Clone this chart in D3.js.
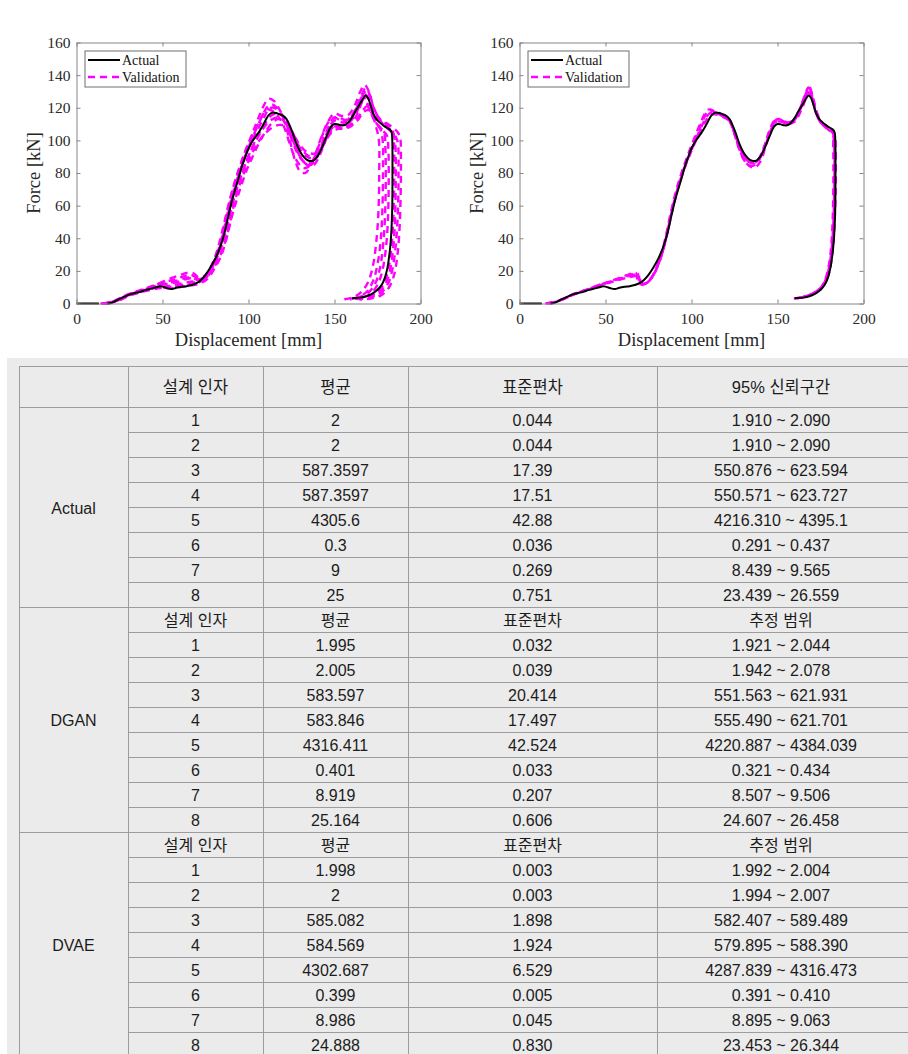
<!DOCTYPE html>
<html>
<head>
<meta charset="utf-8">
<script src="https://cdn.jsdelivr.net/npm/d3@7"></script>
<style>
  html, body { margin: 0; padding: 0; background: #fff; }
  svg { display: block; }
</style>
</head>
<body>
<svg id="fig" width="908" height="1054"></svg>
<script>
// ---------- Force–displacement curves: [displacement mm, force kN] ----------
const xTicks = [0, 50, 100, 150, 200];
const yTicks = [0, 20, 40, 60, 80, 100, 120, 140, 160];
const legendLabels = ["Actual", "Validation"];

// measured response (null breaks the line after the initial flat run)
const actualCurve = [
  [0,0],[13,0],[15,null],
  [18,0],[20,0.3],[22,1.2],[25,2.8],[28,4.2],[31,5.6],[34,6.4],[37,7.2],[40,8.2],[43,9],[46,9.8],[48.5,10.6],
  [50.5,10.2],[53,9.3],[55.5,8.9],[58,9.6],[61,10.2],[64,10.6],[67,11.3],[70,12.6],[72.5,14.6],[75,17.6],
  [77.5,21.5],[80,26],[82,30.5],[84,36],[86,43],[87.5,50],[89,57],[90.5,63.5],[92,69],[94,76],[96,83.5],
  [98,89.5],[100,95],[102,99],[104,102],[106,105],[108,108.5],[110,112.5],[112,115.8],[114,117],[116,116.8],
  [118,116],[120,115.2],[122,113.2],[124,109],[126,103.5],[128,97.5],[130,93],[132,90],[134,88],[136,87.3],
  [138,87.8],[140,90],[142,94],[144,99],[146,104],[148,108.5],[150,110],[152,109.8],[154,109.2],[156,109.4],
  [158,111],[160,113.8],[162,117.5],[164,121],[166,124.5],[168,127.5],[169.5,126],[171,121.5],[172.5,116.5],
  [174,113.5],[176,111.2],[178,109.5],[180,108],[182,106.8],[183.2,105],[183.6,100],[183.7,80],[183.6,60],
  [183.2,47],[182.6,37],[181.8,29],[180.8,22],[179.5,16.5],[178,12.5],[176,9.5],[174,7.5],[171.5,5.7],
  [168.5,4.4],[165,3.6],[162,3.3],[160,3.2]
];

// validation runs, left panel
const valA1 = [[14,0],[20,0.8],[26,3.5],[32,6.2],[38,8],[44,10.5],[50,12.8],[56,14.5],[62,16.5],[66,17.8],[70,16],[74,16.5],[77,20.5],[80,27],[83,37],[86,50],[89,63],[92,74],[95,84],[98,93],[101,101],[104,109],[107,117],[110,123.5],[112,125.5],[115,124],[118,119],[121,111],[124,100],[127,88],[130,81],[133,80],[136,84],[139,92],[142,101],[146,111],[150,116.5],[154,115],[158,115.5],[162,122],[165,130],[167.5,134],[170,130],[172.5,121],[176,113],[180,108],[184,104.5],[186.5,100],[187.2,80],[186.8,55],[185.8,38],[184.2,24],[181.5,13],[177,6.5],[171,3.8],[164,2.6]];
const valA2 = [[17,0],[23,1.5],[29,4.5],[35,6.5],[41,8.2],[47,9.8],[52,9.8],[57,10.2],[63,11],[69,12.2],[74,14.5],[78,19],[82,26],[85,33],[88,44],[91,58],[94,70],[97,79],[100,87],[103,94],[106,99.5],[109,103.5],[112,106.5],[115,108.5],[118,109.5],[121,109],[124,107],[127,102],[130,97],[133,93.5],[136,92],[139,92],[142,95],[145,100],[148,104.5],[152,107],[156,107],[160,109],[164,113],[167,117.5],[170,118.5],[172.5,114],[174.5,107],[175.8,100],[176,80],[175.5,55],[174.3,38],[172.5,24],[169.5,13],[165,6.5],[160,3.5],[155,2.5]];
const valA3 = [[16,0],[22,1.2],[28,4.4],[34,6.8],[40,8.6],[46,10.8],[51,11.8],[56,12.5],[61,14],[66,15.5],[71,14.5],[75,17],[79,24],[82,31],[85,42],[88,56],[91,68],[94,78],[97,87],[100,95],[103,102],[106,108],[109,114],[112,119.5],[115,120],[118,117],[121,113],[124,106],[127,97],[130,90],[133,86],[136,85],[139,88],[142,95],[145,103],[148,110],[151,112.5],[155,111],[159,112.5],[163,120],[166,127],[168.5,130.5],[171,126],[173.5,117],[177,111.5],[181,108],[184,105],[185.3,98],[185.6,75],[185.2,52],[184.3,36],[182.8,23],[180.5,14],[177,8],[172,4.8],[166,3.2],[161,2.8]];
const valA4 = [[18,0],[24,1.8],[30,5],[36,7],[42,8.8],[48,10.3],[53,10],[58,10.8],[64,12],[70,13.4],[75,16.5],[79,22],[83,31],[86,41],[89,54],[92,66],[95,76],[98,85],[101,93],[104,100],[107,106],[110,111],[113,115],[116,116.5],[119,115.5],[122,112],[125,105],[128,98],[131,93],[134,90],[137,89],[140,90.5],[143,96],[146,103],[149,108],[153,109],[157,108.5],[161,112],[164,118],[166.5,124],[168.5,123],[171,117],[174,111],[177,107.5],[179,104],[179.6,95],[179.8,75],[179.3,52],[178.2,35],[176.5,22],[174,13],[170.5,7.5],[166,4.5],[161,3]];
const valA5 = [[15,0],[21,1],[27,4],[33,6.5],[39,8.5],[45,10.5],[50,12],[55,13],[60,14.5],[65,16],[70,15],[74,15.5],[77,19],[80,25.5],[83,35],[85.5,46],[88,58],[91,71],[94,81],[97,90],[100,98],[103,105],[106,111],[109,117],[111,119],[114,118],[117,115],[120,110],[123,101],[126,92],[129,86],[132,83],[135,84],[138,89],[141,97],[144,106],[147,112],[150,114],[154,112],[158,113],[162,118.5],[165,125],[167.5,128.5],[170,125],[173,117],[177,112.5],[181,110],[185,107],[187.8,103],[188.6,85],[188.3,60],[187.6,42],[186.4,28],[184.5,17],[181.5,9.5],[177,5],[171,3],[165,2.3]];
const valA6 = [[19,0],[25,2],[31,5],[37,6.8],[43,8.3],[49,9.5],[54,9.2],[59,9.8],[65,10.8],[71,12],[76,15],[80,21],[84,29],[87,39],[90,52],[93,63],[96,73],[99,82],[102,89],[105,96],[108,102],[111,107],[114,111],[117,113],[120,112.5],[123,110],[126,104],[129,97],[132,93],[135,90.5],[138,90],[141,92.5],[144,98],[147,104],[151,108],[155,107.5],[159,109],[163,113],[166.5,118.5],[169,121],[171.5,117],[174,111],[177.5,106.5],[180.5,103],[181.3,95],[181.5,72],[181,50],[179.8,33],[177.8,20],[175,11.5],[171,6],[166,3.5],[162,2.9]];
const valA7 = [[15,0],[21,1],[27,4.2],[33,6.8],[39,8.8],[45,11.2],[50,13.3],[55,15.5],[60,17.3],[64,18.8],[68,18.5],[72,15],[75,15.5],[78,20],[81,27],[84,37],[87,50],[90,63],[93,74],[96,84],[99,93],[102,101],[105,108],[108,115],[111,120.5],[113.5,122],[116,120.5],[119,116.5],[122,110],[125,101],[128,93],[131,88],[134,86],[137,87],[140,91.5],[143,99],[146,107],[149,113],[152,114.5],[156,112.5],[160,115],[163,121],[166,128.5],[168,132],[170.5,128],[173,119],[176.5,113],[180.5,109.5],[183.5,107],[184.5,100],[184.7,78],[184.3,55],[183.4,38],[182,25],[179.7,15],[176,8],[171,4.5],[165,3],[159,2.5]];
const valA8 = [[17,0],[23,1.6],[29,4.8],[35,6.9],[41,8.6],[47,10.2],[52,10.5],[57,11.5],[62,12.5],[67,13.5],[72,14],[76,17],[80,23.5],[84,34],[87,45],[90,58],[93,69],[96,79],[99,87.5],[102,95],[105,101],[108,106.5],[111,110.5],[114,113],[117,114],[120,112.5],[123,107],[126,99.5],[129,92],[132,87],[135,84.5],[138,85],[141,90],[144,98],[147,105],[150,109],[154,109.5],[158,110.5],[162,115.5],[165,122],[167.5,126],[170,123],[172.5,116],[175,110],[177,106],[178,100],[178.2,80],[177.8,56],[176.8,38],[175,24],[172.5,14],[169,7.5],[164,4],[158,2.5]];

// validation runs, right panel
const valB1 = [[16,0],[24,2],[32,5.8],[40,8.6],[46,11],[52,13],[58,15.2],[64,17.3],[68.5,18.6],[69.5,14],[71,11.5],[74,12.5],[77,16],[80,22.5],[83,31],[86,44],[89,59],[92,71],[95,81],[98,90],[101,98],[104,106],[107,113],[110,118.5],[113,117.5],[117,115.5],[121,114],[124,107],[127,97],[130,89],[133,85],[136,84.5],[139,87.5],[142,95],[145,105],[148,112],[151,113],[155,111],[159,112],[163,119.5],[166,128],[168,132.5],[170,127],[172,118],[175,111],[179,107],[182,104],[183,95],[183.1,75],[182.6,52],[181.7,36],[180.3,24],[178.2,15],[175.5,10],[172,7],[167,4.6],[162,3.4],[159.5,3.1]];
const valB2 = [[17,0],[24,2.2],[32,6],[40,8.8],[46,11.3],[52,13.2],[58,15],[64,16.8],[69,17.8],[70,13.5],[71.5,11.8],[74.5,13],[77.5,16.8],[80.5,23.5],[83.5,33],[86.5,46.5],[89.5,61],[92.5,72.5],[95.5,82],[98.5,90.5],[101.5,98],[104.5,105.5],[107.5,112],[110.5,116.5],[113.5,117],[117,115.5],[121,113.5],[124,107.5],[127,98.5],[130,91],[133,87],[136,86],[139,88.5],[142,95.5],[145,104.5],[148,110.5],[151,112],[155,110.5],[159,111.5],[163,118.5],[166,126.5],[168.5,131],[170.5,126],[172.5,117],[175.5,111],[179,107.5],[182.5,104.5],[183.4,96],[183.5,76],[183,53],[182.1,37],[180.7,25],[178.6,16],[176,10.5],[172.5,7.2],[167.5,4.8],[162.5,3.5],[160,3.2]];
const valB3 = [[15,0],[23,1.8],[31,5.6],[39,8.4],[45,10.8],[51,13],[57,15.3],[63,17.6],[67.5,19],[68.5,15],[70,12],[73,12.3],[76,15],[79,20.5],[82,28.5],[85,41],[88,56],[91,69],[94,79.5],[97,88.5],[100,97],[103,105],[106,112.5],[109,118.5],[111,119],[114,117.5],[118,116],[122,113],[125,104],[128,94],[131,87.5],[134,84],[137,83.5],[140,87],[143,96],[146,106],[149,112.5],[152,113],[156,111],[160,113],[164,122],[167,130],[168.5,133],[170.5,127],[172.5,118.5],[175.5,111.5],[179,108],[182,105],[182.4,96],[182.5,75],[182.1,52],[181.3,36],[180,24.5],[178,15.5],[175.5,10.2],[172,7],[167,4.6],[162,3.3],[159,3]];
const valB4 = [[18,0],[25,2.5],[33,6],[41,9],[47,11.2],[53,13],[59,14.8],[65,16.4],[69.5,16.8],[70.5,13],[72,12],[75,13.5],[78,17.5],[81,24.5],[84,34.5],[87,48],[90,62],[93,73.5],[96,83],[99,91],[102,98.5],[105,105.5],[108,111.5],[111,115.5],[114,116],[118,114.5],[122,112],[125,105],[128,96],[131,89.5],[134,86.5],[137,86.5],[140,89.5],[143,97],[146,105.5],[149,111],[152,111.5],[156,110],[160,111.5],[164,119],[166.5,126],[168,129.5],[170,125.5],[172.5,116.5],[175.5,110.5],[179,107],[183,104],[183.7,95],[183.8,74],[183.3,52],[182.4,36],[181,24],[179,15.5],[176.5,10.5],[173,7.2],[168,4.8],[163,3.5],[160.5,3.2]];

// ---------- Table of design-factor statistics ----------
const headerLabels = ["", "설계 인자", "평균", "표준편차", "95% 신뢰구간"];
const subHeaderLabels = ["설계 인자", "평균", "표준편차", "추정 범위"];
const factorIds = ["1", "2", "3", "4", "5", "6", "7", "8"];

const actualMean  = ["2", "2", "587.3597", "587.3597", "4305.6", "0.3", "9", "25"];
const actualStd   = ["0.044", "0.044", "17.39", "17.51", "42.88", "0.036", "0.269", "0.751"];
const actualRange = ["1.910 ~ 2.090", "1.910 ~ 2.090", "550.876 ~ 623.594", "550.571 ~ 623.727",
                     "4216.310 ~ 4395.1", "0.291 ~ 0.437", "8.439 ~ 9.565", "23.439 ~ 26.559"];

const dganMean  = ["1.995", "2.005", "583.597", "583.846", "4316.411", "0.401", "8.919", "25.164"];
const dganStd   = ["0.032", "0.039", "20.414", "17.497", "42.524", "0.033", "0.207", "0.606"];
const dganRange = ["1.921 ~ 2.044", "1.942 ~ 2.078", "551.563 ~ 621.931", "555.490 ~ 621.701",
                   "4220.887 ~ 4384.039", "0.321 ~ 0.434", "8.507 ~ 9.506", "24.607 ~ 26.458"];

const dvaeMean  = ["1.998", "2", "585.082", "584.569", "4302.687", "0.399", "8.986", "24.888"];
const dvaeStd   = ["0.003", "0.003", "1.898", "1.924", "6.529", "0.005", "0.045", "0.830"];
const dvaeRange = ["1.992 ~ 2.004", "1.994 ~ 2.007", "582.407 ~ 589.489", "579.895 ~ 588.390",
                   "4287.839 ~ 4316.473", "0.391 ~ 0.410", "8.895 ~ 9.063", "23.453 ~ 26.344"];

const groupNames = ["Actual", "DGAN", "DVAE"];

// ---------------------------------------------------------------------
const svg = d3.select("#fig");
svg.append("rect").attr("width", 908).attr("height", 1054).attr("fill", "#fff");

const SERIF = "'Liberation Serif', 'Times New Roman', serif";
const SANS = "'Liberation Sans', Arial, 'Noto Sans CJK KR', sans-serif";
const AXIS_GRAY = "#868686";
const MAGENTA = "#ff00ff";

function drawPanel(left, validationRuns) {
  const x = d3.scaleLinear().domain([0, 200]).range([left, left + 344]);
  const y = d3.scaleLinear().domain([0, 160]).range([303.5, 42.5]);
  const g = svg.append("g");

  const line = d3.line()
    .defined(d => d[1] !== null)
    .x(d => x(d[0]))
    .y(d => y(d[1]))
    .curve(d3.curveCatmullRom.alpha(0.5));

  validationRuns.forEach(run => {
    g.append("path")
      .attr("d", line(run))
      .attr("fill", "none")
      .attr("stroke", MAGENTA)
      .attr("stroke-width", 2.4)
      .attr("stroke-dasharray", "7,5");
  });

  g.append("path")
    .attr("d", line(actualCurve))
    .attr("fill", "none")
    .attr("stroke", "#000")
    .attr("stroke-width", 2);

  // box axes with inward ticks (tick labels only on bottom and left)
  const styleAxis = sel => {
    sel.attr("font-family", SERIF).attr("font-size", 15.5);
    sel.selectAll("path.domain").attr("stroke", AXIS_GRAY);
    sel.selectAll(".tick line").attr("stroke", AXIS_GRAY);
    sel.selectAll(".tick text").attr("fill", "#2a2a2a");
  };

  g.append("g").attr("transform", `translate(0,${y(0)})`)
    .call(d3.axisBottom(x).tickValues(xTicks).tickSizeInner(-4).tickSizeOuter(0).tickPadding(9))
    .call(styleAxis);
  g.append("g").attr("transform", `translate(0,${y(160)})`)
    .call(d3.axisTop(x).tickValues(xTicks).tickSizeInner(-4).tickSizeOuter(0).tickFormat(""))
    .call(styleAxis);
  g.append("g").attr("transform", `translate(${x(0)},0)`)
    .call(d3.axisLeft(y).tickValues(yTicks).tickSizeInner(-4).tickSizeOuter(0).tickPadding(6))
    .call(styleAxis);
  g.append("g").attr("transform", `translate(${x(200)},0)`)
    .call(d3.axisRight(y).tickValues(yTicks).tickSizeInner(-4).tickSizeOuter(0).tickFormat(""))
    .call(styleAxis);

  // axis titles
  g.append("text")
    .attr("x", (x(0) + x(200)) / 2).attr("y", 346)
    .attr("text-anchor", "middle")
    .attr("font-family", SERIF).attr("font-size", 18.5).attr("fill", "#262626")
    .text("Displacement [mm]");
  g.append("text")
    .attr("transform", `translate(${x(0) - 37},${(y(0) + y(160)) / 2}) rotate(-90)`)
    .attr("text-anchor", "middle")
    .attr("font-family", SERIF).attr("font-size", 18.5).attr("fill", "#262626")
    .text("Force [kN]");

  // legend
  const lg = g.append("g").attr("transform", `translate(${x(0) + 8.5},${y(160) + 8.5})`);
  lg.append("rect").attr("width", 101).attr("height", 36)
    .attr("fill", "#fff").attr("stroke", "#6e6e6e").attr("stroke-width", 1);
  const rowsY = [9, 26];
  lg.selectAll("line.key").data(legendLabels).join("line")
    .attr("x1", 3).attr("x2", 35)
    .attr("y1", (d, i) => rowsY[i]).attr("y2", (d, i) => rowsY[i])
    .attr("stroke", (d, i) => i === 0 ? "#000" : MAGENTA)
    .attr("stroke-width", (d, i) => i === 0 ? 2 : 2.4)
    .attr("stroke-dasharray", (d, i) => i === 0 ? null : "7,5");
  lg.selectAll("text").data(legendLabels).join("text")
    .attr("x", 37).attr("y", (d, i) => rowsY[i] + 5)
    .attr("font-family", SERIF).attr("font-size", 14).attr("fill", "#111")
    .text(d => d);
}

drawPanel(76.5, [valA1, valA2, valA3, valA4, valA5, valA6, valA7, valA8]);
drawPanel(519.5, [valB1, valB2, valB3, valB4]);

// ---------- table ----------
const colX = [19, 128, 263, 408, 657, 905];
const tableTop = 366.5;
const headH = 41;
const rowH = 25;
const LINE = "#9c9c9c";

svg.append("rect").attr("x", 7).attr("y", 358).attr("width", 901).attr("height", 696).attr("fill", "#ebebeb");

const tg = svg.append("g").attr("font-family", SANS).attr("fill", "#1c1c1c");

const groups = [
  { name: groupNames[0], sub: false, cols: [factorIds, actualMean, actualStd, actualRange] },
  { name: groupNames[1], sub: true,  cols: [factorIds, dganMean, dganStd, dganRange] },
  { name: groupNames[2], sub: true,  cols: [factorIds, dvaeMean, dvaeStd, dvaeRange] }
];

const colCenter = i => (colX[i] + colX[i + 1]) / 2;

// header row
headerLabels.forEach((t, i) => {
  if (!t) return;
  tg.append("text").attr("x", colCenter(i)).attr("y", tableTop + headH / 2 + 6)
    .attr("text-anchor", "middle").attr("font-size", 16.5).text(t);
});

const hLines = [{ y: tableTop, x1: colX[0] }, { y: tableTop + headH, x1: colX[0] }];
let yCursor = tableTop + headH;
groups.forEach(gr => {
  const rows = [];
  if (gr.sub) rows.push(subHeaderLabels);
  factorIds.forEach((_, r) => rows.push(gr.cols.map(c => c[r])));
  const gTop = yCursor;
  rows.forEach((cells, r) => {
    const ry = gTop + r * rowH;
    cells.forEach((t, c) => {
      tg.append("text").attr("x", colCenter(c + 1)).attr("y", ry + rowH / 2 + 6)
        .attr("text-anchor", "middle").attr("font-size", 16).text(t);
    });
    if (r > 0) hLines.push({ y: ry, x1: colX[1] });
  });
  yCursor = gTop + rows.length * rowH;
  hLines.push({ y: yCursor, x1: colX[0] });
  tg.append("text").attr("x", colCenter(0)).attr("y", (gTop + yCursor) / 2 + 6)
    .attr("text-anchor", "middle").attr("font-size", 16).text(gr.name);
});

svg.append("g").selectAll("line.h").data(hLines).join("line")
  .attr("x1", d => d.x1).attr("x2", 910)
  .attr("y1", d => d.y).attr("y2", d => d.y)
  .attr("stroke", LINE).attr("stroke-width", 1);
svg.append("g").selectAll("line.v").data(colX.slice(0, 5)).join("line")
  .attr("x1", d => d + 0.5).attr("x2", d => d + 0.5)
  .attr("y1", tableTop).attr("y2", 1060)
  .attr("stroke", LINE).attr("stroke-width", 1);
</script>
</body>
</html>
